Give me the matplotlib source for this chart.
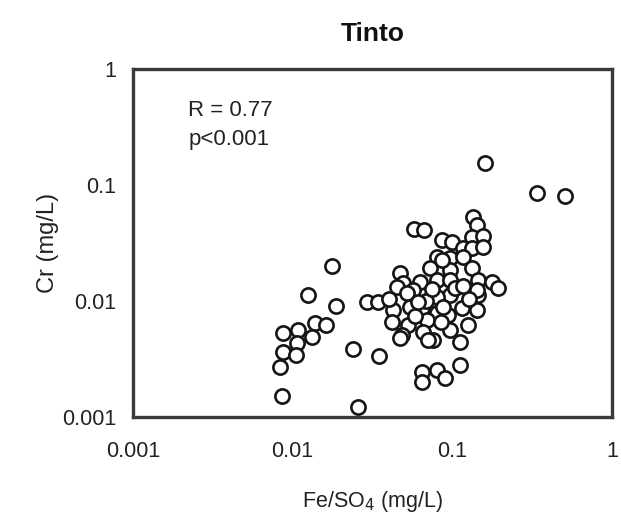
import matplotlib
matplotlib.use("Agg")
import matplotlib.pyplot as plt
from matplotlib.ticker import FixedLocator, FixedFormatter, NullLocator

plt.rcParams['font.family'] = ['Liberation Sans', 'DejaVu Sans']

# Fe/SO4 (mg/L) vs Cr (mg/L)
fe_so4 = [0.160, 0.339, 0.507, 0.0575, 0.0664, 0.0176,
          0.1346, 0.1426, 0.0861, 0.0993, 0.1327, 0.1555, 0.1165, 0.1327,
          0.1555, 0.0801, 0.0966, 0.1165, 0.0836, 0.0966, 0.1327, 0.0724,
          0.0470, 0.0861,
          0.0491, 0.0627, 0.0801, 0.0966, 0.1446, 0.177, 0.193, 0.0745,
          0.0966, 0.1446, 0.0801, 0.0450, 0.0566, 0.1426, 0.0292, 0.0342,
          0.0425, 0.0542, 0.0645, 0.0801, 0.0938, 0.1148, 0.1426, 0.0419,
          0.0527, 0.0693, 0.0655, 0.0483, 0.0966, 0.1253, 0.0757, 0.1117,
          0.0470, 0.0703, 0.1117, 0.0645, 0.0801, 0.0645, 0.0899,
          0.104, 0.068, 0.088, 0.058, 0.040, 0.052, 0.075, 0.061, 0.085,
          0.128, 0.116,
          0.01247, 0.01866, 0.00869, 0.01079, 0.0138, 0.01617, 0.01321,
          0.01064, 0.00869, 0.01049, 0.00832, 0.00857, 0.02386, 0.0347,
          0.0256]
cr = [0.155, 0.0853, 0.0804, 0.0418, 0.0409, 0.0200,
      0.0530, 0.0452, 0.0336, 0.0323, 0.0356, 0.0363, 0.0286, 0.0286,
      0.0292, 0.0239, 0.0235, 0.0239, 0.0192, 0.0185, 0.0192, 0.0192,
      0.0174, 0.0226,
      0.0143, 0.0146, 0.0152, 0.0152, 0.0152, 0.0146, 0.0129, 0.0113,
      0.0113, 0.0113, 0.0108, 0.0132, 0.0125, 0.0125, 0.0098, 0.0098,
      0.00836, 0.00888, 0.00871, 0.00788, 0.00757, 0.00871, 0.00836, 0.00659,
      0.00621, 0.00686, 0.00541, 0.00509, 0.00562, 0.00621, 0.00461, 0.00443,
      0.00480, 0.00461, 0.00281, 0.00244, 0.00254, 0.00200, 0.00217,
      0.0129, 0.0100, 0.0088, 0.0074, 0.0105, 0.0118, 0.0128, 0.0098, 0.0066,
      0.0105, 0.0135,
      0.0113, 0.00906, 0.0053, 0.00562, 0.00646, 0.00621, 0.00489,
      0.00434, 0.00363, 0.00342, 0.0027, 0.00152, 0.00386, 0.00336,
      0.00122]

tick_vals = [0.001, 0.01, 0.1, 1]
tick_labels = ["0.001", "0.01", "0.1", "1"]

fig = plt.figure(figsize=(6.21, 5.29), dpi=100)
ax = fig.add_axes([0.2142, 0.2117, 0.7713, 0.6579])

ax.scatter(fe_so4, cr, s=105, facecolors='white', edgecolors='#151515',
           linewidths=1.9, zorder=3)

ax.set_xscale('log')
ax.set_yscale('log')
ax.set_xlim(0.001, 1)
ax.set_ylim(0.001, 1)

for axis in (ax.xaxis, ax.yaxis):
    axis.set_major_locator(FixedLocator(tick_vals))
    axis.set_major_formatter(FixedFormatter(tick_labels))
    axis.set_minor_locator(NullLocator())
ax.tick_params(axis='both', length=0, labelsize=15.5, colors='#222222')
ax.tick_params(axis='x', pad=17)
ax.tick_params(axis='y', pad=12)

for sp in ax.spines.values():
    sp.set_linewidth(2.4)
    sp.set_color('#3a3a3a')

ax.set_title("Tinto", fontsize=19, fontweight='bold', pad=20, color='#111111')
ax.set_xlabel("Fe/SO$_4$ (mg/L)", fontsize=15.5, labelpad=20, color='#222222')
ax.set_ylabel("Cr (mg/L)", fontsize=17, labelpad=2, color='#222222')

ax.text(0.115, 0.881, "R = 0.77", transform=ax.transAxes, fontsize=16,
        color='#222222', va='center')
ax.text(0.115, 0.796, "p<0.001", transform=ax.transAxes, fontsize=16,
        color='#222222', va='center')

fig.savefig("out.png", dpi=100)
